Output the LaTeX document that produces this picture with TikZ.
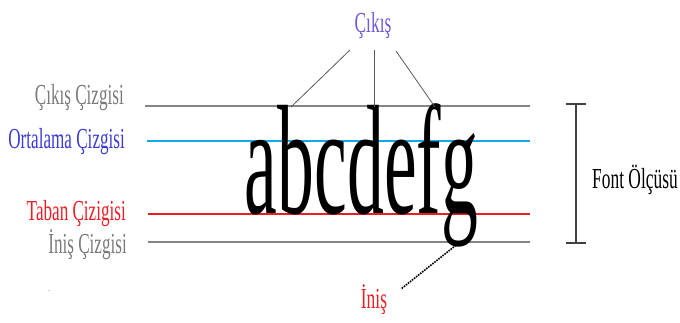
\documentclass[tikz,border=0pt]{standalone}
\usepackage{fontspec}
\usepackage{graphicx}
\setmainfont{Liberation Serif}
\definecolor{guidegray}{HTML}{858585}
\definecolor{txtgray}{HTML}{7A7A7A}
\definecolor{meanblue}{HTML}{12A8EC}
\definecolor{txtblue}{HTML}{3A3AD8}
\definecolor{topblue}{HTML}{6A5AE0}
\definecolor{basered}{HTML}{EE1C24}
\definecolor{bracketgray}{HTML}{404040}
\begin{document}
\begin{tikzpicture}[x=1pt,y=-1pt,
  lbl/.style={inner sep=0pt, font=\fontsize{29}{29}\selectfont},
  guide/.style={line width=2pt},
  pointer/.style={draw=black!65, line width=0.8pt},
  dotpointer/.style={draw=black, line width=1.6pt, densely dotted}]
\useasboundingbox (0,0) rectangle (680,322);
% guide lines
\coordinate (asc0) at (145,106);  \coordinate (asc1) at (530,106);
\coordinate (mean0) at (147,141); \coordinate (mean1) at (530,141);
\coordinate (base0) at (148,214); \coordinate (base1) at (530,214);
\coordinate (desc0) at (148,242); \coordinate (desc1) at (530,242);
\draw[guide, guidegray] (asc0) -- (asc1);
\draw[guide, meanblue] (mean0) -- (mean1);
\draw[guide, basered] (base0) -- (base1);
\draw[guide, guidegray] (desc0) -- (desc1);
% sample text
\node[inner sep=0pt, anchor=base, font=\fontsize{156}{156}\selectfont] (sample) at (361.5,213) {\scalebox{0.472}[1]{abcdefg}};
% left labels
\node[lbl, anchor=base east, text=txtgray] (asclbl) at (124,104) {\scalebox{0.59}[1]{Çıkış Çizgisi}};
\node[lbl, anchor=base east, text=txtblue] (meanlbl) at (125,148) {\scalebox{0.59}[1]{Ortalama Çizgisi}};
\node[lbl, anchor=base east, text=basered] (baselbl) at (126,220) {\scalebox{0.59}[1]{Taban Çizigisi}};
\node[lbl, anchor=base east, text=txtgray] (desclbl) at (127,253) {\scalebox{0.59}[1]{İniş Çizgisi}};
\node[inner sep=0pt, font=\fontsize{10}{10}\selectfont, text=black!40] (dot) at (49,291) {.};
% ascender callout
\node[lbl, anchor=base, text=topblue] (asctop) at (373,32) {\scalebox{0.6}[1]{Çıkış}};
\coordinate (pa0) at (350,50);  \coordinate (pa1) at (291,107);
\coordinate (pb0) at (374,50);  \coordinate (pb1) at (374,107);
\coordinate (pc0) at (396,51);  \coordinate (pc1) at (435,107);
\draw[pointer] (pa0) -- (pa1);
\draw[pointer] (pb0) -- (pb1);
\draw[pointer] (pc0) -- (pc1);
% descender callout
\node[lbl, anchor=base, text=basered] (desctop) at (374,308) {\scalebox{0.6}[1]{İniş}};
\coordinate (gd) at (460,242); \coordinate (gdend) at (401,289);
\draw[dotpointer] (gd) -- (gdend);
% font size bracket
\coordinate (br0) at (576,104); \coordinate (br1) at (576,243);
\draw[bracketgray, line width=2pt] (br0) -- (br1);
\draw[bracketgray, line width=2pt] (566,104) -- (586,104);
\draw[bracketgray, line width=2pt] (566,243) -- (586,243);
\node[lbl, anchor=base west, text=black] (sizelbl) at (592,188) {\scalebox{0.6}[1]{Font Ölçüsü}};
\end{tikzpicture}
\end{document}
